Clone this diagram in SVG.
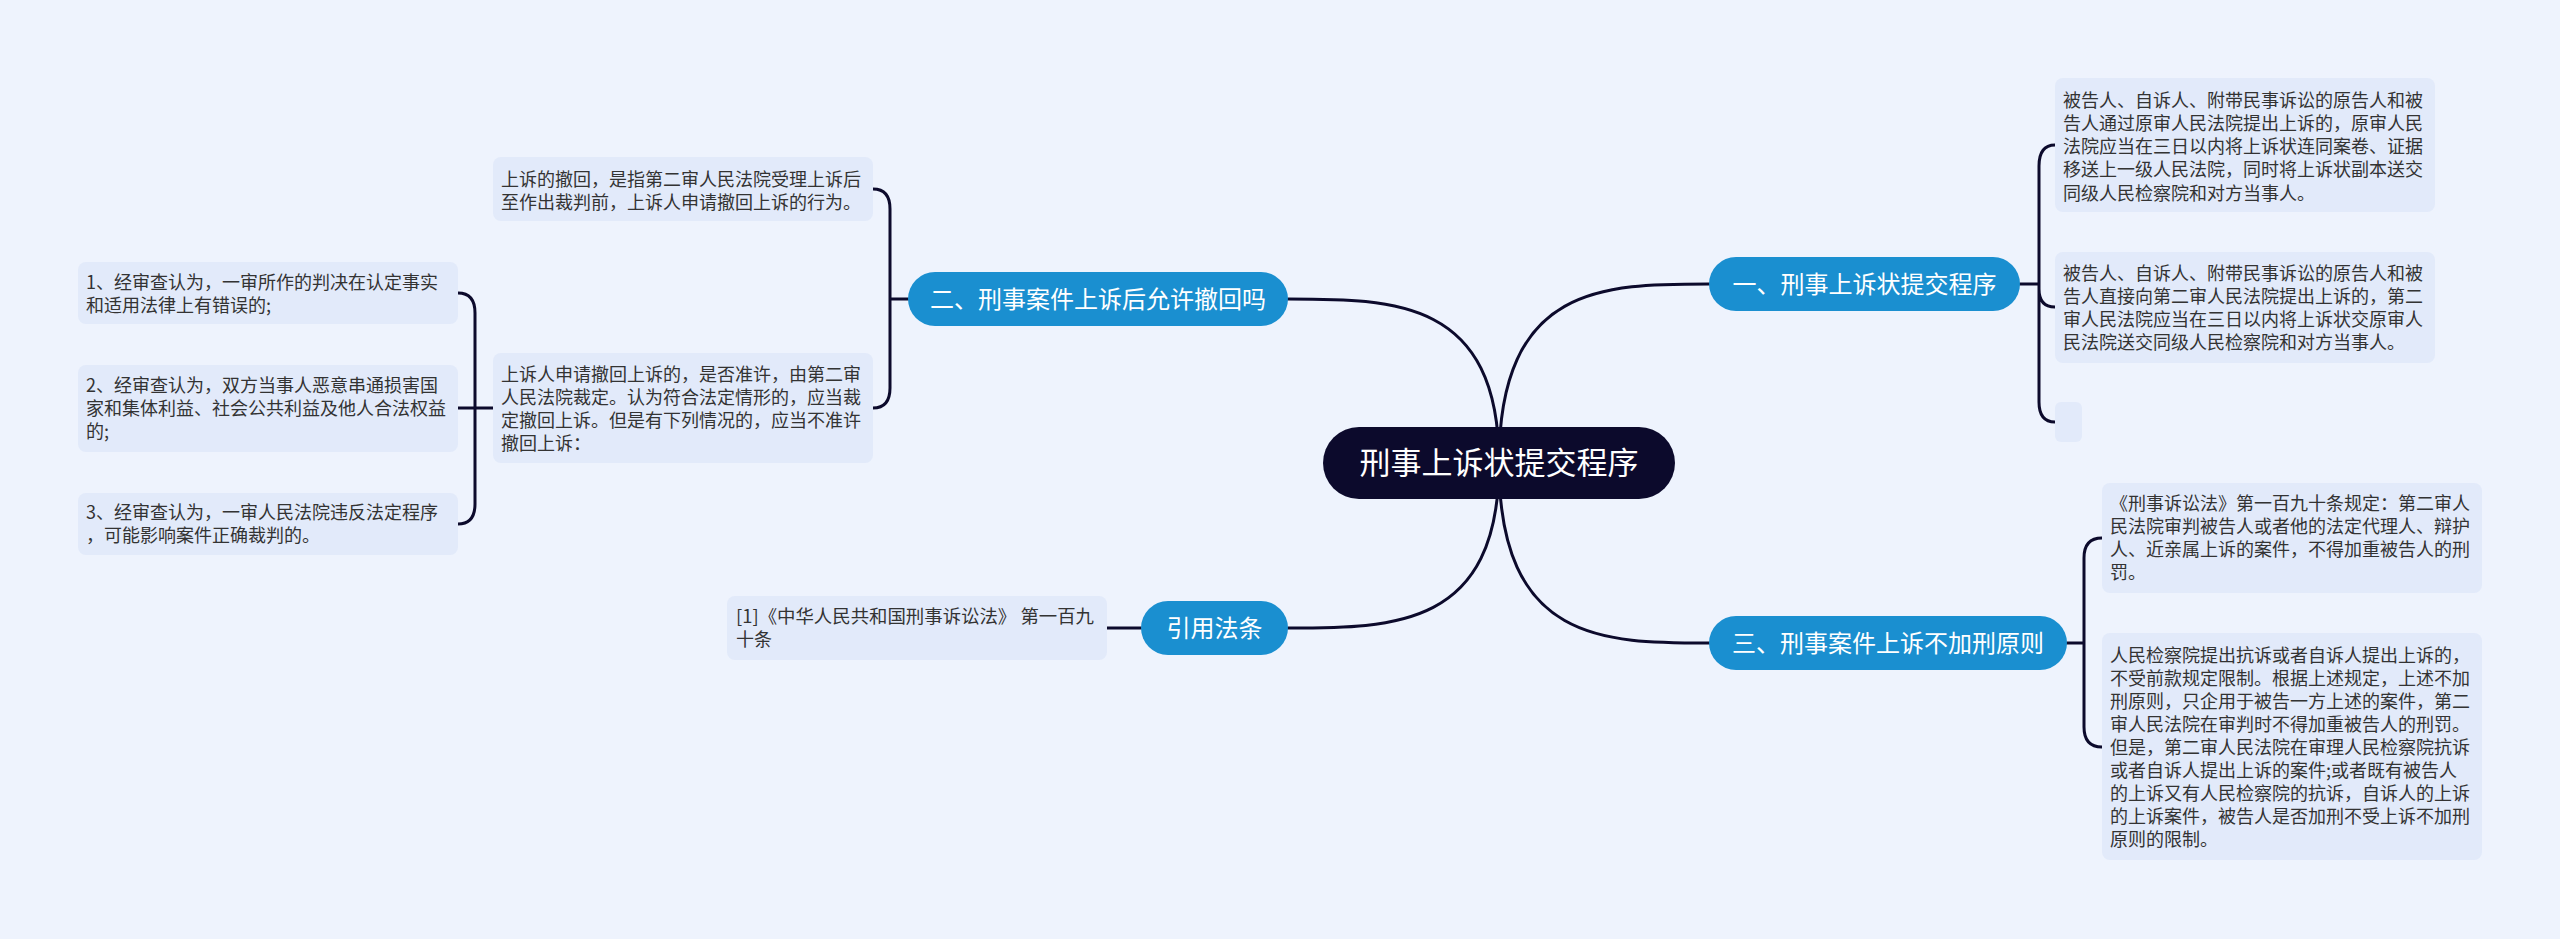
<svg xmlns="http://www.w3.org/2000/svg" width="2560" height="939" viewBox="0 0 2560 939">
<style>
.bg{fill:#eef3fd}
.leaf{fill:#e2eafa}
.pill{fill:#1a8fd0}
.root{fill:#0c0a2c}
.ln{fill:none;stroke:#0c0a2c;stroke-width:3;stroke-linecap:round}
.t{font-family:"Noto Sans CJK SC","Noto Sans",sans-serif;font-size:18px;fill:#333333}
.pt{font-family:"Noto Sans CJK SC","Noto Sans",sans-serif;font-size:24px;fill:#ffffff;text-anchor:middle}
.rt{font-family:"Noto Sans CJK SC","Noto Sans",sans-serif;font-size:31px;fill:#ffffff;text-anchor:middle}
</style>
<rect class="bg" x="0" y="0" width="2560" height="939"/>
<g id="connectors">
<path class="ln" d="M1499 463 C1499 284 1604 284 1709 284"/>
<path class="ln" d="M1499 463 C1499 643 1604 643 1709 643"/>
<path class="ln" d="M1499 463 C1499 299 1394 299 1288 299"/>
<path class="ln" d="M1499 463 C1499 628 1394 628 1288 628"/>
<path class="ln" d="M2020 284 H2039 M2039 284 V166 Q2039 145 2055 145 M2039 284 V289 Q2039 307 2055 307 M2039 284 V402 Q2039 422 2055 422"/>
<path class="ln" d="M2067 643 H2084 M2084 643 V558 Q2084 538 2102 538 M2084 643 V727 Q2084 747 2102 747"/>
<path class="ln" d="M908 299 H890 M890 299 V209 Q890 189 873 189 M890 299 V388 Q890 408 873 408"/>
<path class="ln" d="M493 408 H475 M475 408 V313 Q475 293 458 293 M475 408 H458 M475 408 V504 Q475 524 458 524"/>
<path class="ln" d="M1141 628 H1107"/>
</g>
<g id="root">
<rect class="root" x="1323" y="427" width="352" height="72" rx="36"/>
<text class="rt" x="1499" y="474">刑事上诉状提交程序</text>
</g>
<g id="b1">
<rect class="pill" x="1709" y="257" width="311" height="54" rx="27"/>
<text class="pt" x="1864.5" y="292.5">一、刑事上诉状提交程序</text>
</g>
<g id="b1-1">
<rect class="leaf" x="2055" y="78" width="380" height="134" rx="8"/>
<text class="t" x="2063" y="106.5">被告人、自诉人、附带民事诉讼的原告人和被</text>
<text class="t" x="2063" y="129.8">告人通过原审人民法院提出上诉的，原审人民</text>
<text class="t" x="2063" y="153.1">法院应当在三日以内将上诉状连同案卷、证据</text>
<text class="t" x="2063" y="176.4">移送上一级人民法院，同时将上诉状副本送交</text>
<text class="t" x="2063" y="199.7">同级人民检察院和对方当事人。</text>
</g>
<g id="b1-2">
<rect class="leaf" x="2055" y="252" width="380" height="111" rx="8"/>
<text class="t" x="2063" y="279.5">被告人、自诉人、附带民事诉讼的原告人和被</text>
<text class="t" x="2063" y="302.8">告人直接向第二审人民法院提出上诉的，第二</text>
<text class="t" x="2063" y="326.1">审人民法院应当在三日以内将上诉状交原审人</text>
<text class="t" x="2063" y="349.4">民法院送交同级人民检察院和对方当事人。</text>
</g>
<g id="b1-3">
<rect class="leaf" x="2055" y="402" width="27" height="40" rx="6"/>
</g>
<g id="b3">
<rect class="pill" x="1709" y="616" width="358" height="54" rx="27"/>
<text class="pt" x="1888" y="651.5">三、刑事案件上诉不加刑原则</text>
</g>
<g id="b3-1">
<rect class="leaf" x="2102" y="483" width="380" height="110" rx="8"/>
<text class="t" x="2110" y="509.5">《刑事诉讼法》第一百九十条规定：第二审人</text>
<text class="t" x="2110" y="532.8">民法院审判被告人或者他的法定代理人、辩护</text>
<text class="t" x="2110" y="556.1">人、近亲属上诉的案件，不得加重被告人的刑</text>
<text class="t" x="2110" y="579.4">罚。</text>
</g>
<g id="b3-2">
<rect class="leaf" x="2102" y="633" width="380" height="227" rx="8"/>
<text class="t" x="2110" y="661.5">人民检察院提出抗诉或者自诉人提出上诉的，</text>
<text class="t" x="2110" y="684.6">不受前款规定限制。根据上述规定，上述不加</text>
<text class="t" x="2110" y="707.7">刑原则，只企用于被告一方上述的案件，第二</text>
<text class="t" x="2110" y="730.8">审人民法院在审判时不得加重被告人的刑罚。</text>
<text class="t" x="2110" y="753.9">但是，第二审人民法院在审理人民检察院抗诉</text>
<text class="t" x="2110" y="777">或者自诉人提出上诉的案件;或者既有被告人</text>
<text class="t" x="2110" y="800.1">的上诉又有人民检察院的抗诉，自诉人的上诉</text>
<text class="t" x="2110" y="823.2">的上诉案件，被告人是否加刑不受上诉不加刑</text>
<text class="t" x="2110" y="846.3">原则的限制。</text>
</g>
<g id="b2">
<rect class="pill" x="908" y="272" width="380" height="54" rx="27"/>
<text class="pt" x="1098" y="307.5">二、刑事案件上诉后允许撤回吗</text>
</g>
<g id="b2-1">
<rect class="leaf" x="493" y="157" width="380" height="64" rx="8"/>
<text class="t" x="501" y="185.5">上诉的撤回，是指第二审人民法院受理上诉后</text>
<text class="t" x="501" y="208.8">至作出裁判前，上诉人申请撤回上诉的行为。</text>
</g>
<g id="b2-2">
<rect class="leaf" x="493" y="353" width="380" height="110" rx="8"/>
<text class="t" x="501" y="380.5">上诉人申请撤回上诉的，是否准许，由第二审</text>
<text class="t" x="501" y="403.8">人民法院裁定。认为符合法定情形的，应当裁</text>
<text class="t" x="501" y="427.1">定撤回上诉。但是有下列情况的，应当不准许</text>
<text class="t" x="501" y="450.4">撤回上诉：</text>
</g>
<g id="b2-2-1">
<rect class="leaf" x="78" y="262" width="380" height="62" rx="8"/>
<text class="t" x="86" y="288.5">1、经审查认为，一审所作的判决在认定事实</text>
<text class="t" x="86" y="311.8">和适用法律上有错误的;</text>
</g>
<g id="b2-2-2">
<rect class="leaf" x="78" y="365" width="380" height="87" rx="8"/>
<text class="t" x="86" y="391.7">2、经审查认为，双方当事人恶意串通损害国</text>
<text class="t" x="86" y="415">家和集体利益、社会公共利益及他人合法权益</text>
<text class="t" x="86" y="438.3">的;</text>
</g>
<g id="b2-2-3">
<rect class="leaf" x="78" y="493" width="380" height="62" rx="8"/>
<text class="t" x="86" y="519">3、经审查认为，一审人民法院违反法定程序</text>
<text class="t" x="86" y="542.3">，可能影响案件正确裁判的。</text>
</g>
<g id="b4">
<rect class="pill" x="1141" y="601" width="147" height="54" rx="27"/>
<text class="pt" x="1214.5" y="636.5">引用法条</text>
</g>
<g id="b4-1">
<rect class="leaf" x="727" y="596" width="380" height="64" rx="8"/>
<text class="t" x="736" y="623" textLength="358" lengthAdjust="spacingAndGlyphs">[1]《中华人民共和国刑事诉讼法》 第一百九</text>
<text class="t" x="736" y="646.3">十条</text>
</g>
</svg>
